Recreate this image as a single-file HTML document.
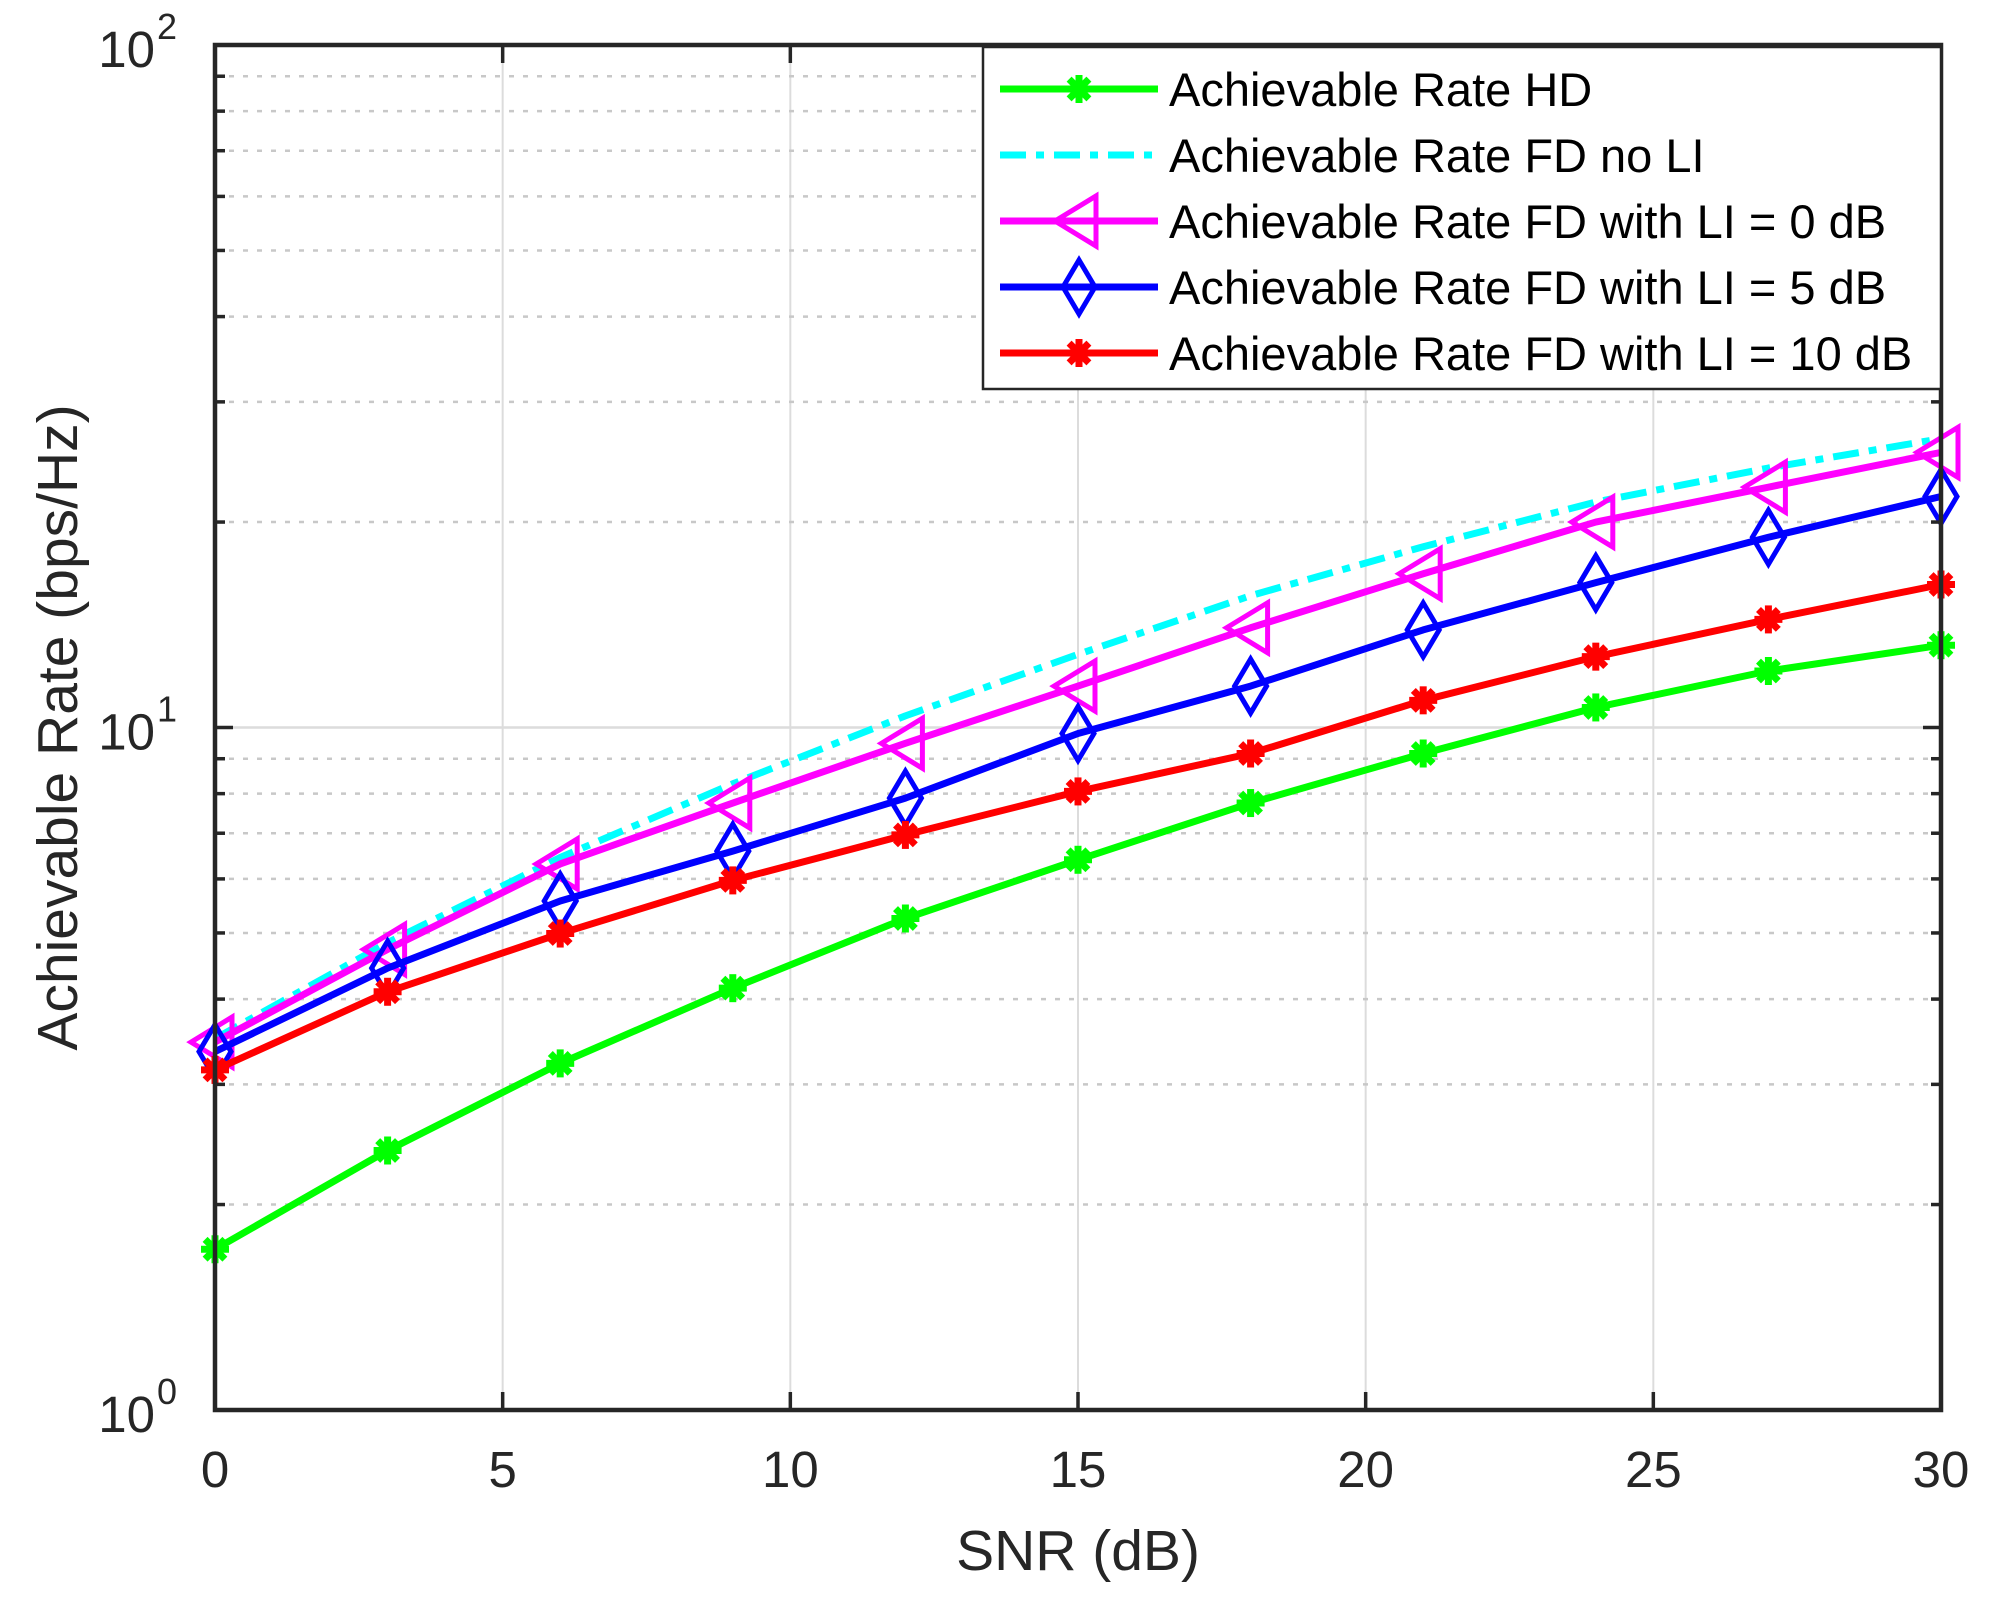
<!DOCTYPE html>
<html><head><meta charset="utf-8"><style>
html,body{margin:0;padding:0;background:#fff;}
svg{display:block;font-family:"Liberation Sans",Arial,sans-serif;}
</style></head><body>
<svg id="chart" width="1989" height="1597" viewBox="0 0 1989 1597" xmlns="http://www.w3.org/2000/svg">
<rect width="1989" height="1597" fill="#fff"/>
<g id="grid"></g>
<g id="series"></g>
<g id="axes"></g>
<g id="legend"></g>
</svg>
<script>
const snr = [0,3,6,9,12,15,18,21,24,27,30];
const rateHD = [1.72,2.4,3.22,4.15,5.25,6.4,7.75,9.16,10.7,12.1,13.2];
const rateNoLI = [3.5,4.84,6.45,8.27,10.4,12.8,15.6,18.4,21.4,24.0,26.5];
const rateLI0 = [3.46,4.73,6.31,7.75,9.48,11.5,14.0,16.8,20.0,22.5,25.3];
const rateLI5 = [3.35,4.44,5.57,6.59,7.88,9.8,11.5,13.9,16.3,19.0,21.8];
const rateLI10 = [3.15,4.1,4.99,5.97,6.96,8.06,9.16,10.96,12.7,14.4,16.2];
const xTicks = [0,5,10,15,20,25,30];
const yDecades = [1,10,100];
const yExps = ["0","1","2"];
const legendLabels = ["Achievable Rate HD","Achievable Rate FD no LI","Achievable Rate FD with LI = 0 dB","Achievable Rate FD with LI = 5 dB","Achievable Rate FD with LI = 10 dB"];

const L=215,R=1941,T=45,B=1410;
const NS="http://www.w3.org/2000/svg";
function xs(v){return L+(v-0)/(30-0)*(R-L);}
function ys(v){return B-(Math.log10(v)-0)/2*(B-T);}
function mk(tag,attrs,parent){const e=document.createElementNS(NS,tag);for(const k in attrs)e.setAttribute(k,attrs[k]);parent.appendChild(e);return e;}
const grid=document.getElementById('grid'),axes=document.getElementById('axes'),ser=document.getElementById('series'),leg=document.getElementById('legend');

xTicks.forEach(t=>{const l=mk('line',{x1:xs(t),x2:xs(t),y1:T,y2:B,stroke:'#dcdcdc','stroke-width':2},grid);

});
for(let d=1;d<100;d*=10){for(let m=1;m<10;m++){const v=d*m;const y=ys(v);
 const l=mk('line',{x1:L,x2:R,y1:y,y2:y,stroke:m==1?'#dcdcdc':'#c8c8c8','stroke-width':2.5,'stroke-dasharray':m==1?'':'5,9'},grid);
 
 
 if(m>1){mk('line',{x1:L,x2:L+10,y1:y,y2:y,stroke:'#262626','stroke-width':3.5},axes);mk('line',{x1:R,x2:R-10,y1:y,y2:y,stroke:'#262626','stroke-width':3.5},axes);}
}}
const fr=mk('rect',{x:L,y:T,width:R-L,height:B-T,fill:'none',stroke:'#262626','stroke-width':4.5},axes);


xTicks.forEach(t=>{mk('line',{x1:xs(t),x2:xs(t),y1:B,y2:B-18,stroke:'#262626','stroke-width':3.5},axes);mk('line',{x1:xs(t),x2:xs(t),y1:T,y2:T+18,stroke:'#262626','stroke-width':3.5},axes);
 const tx=mk('text',{x:xs(t),y:1487,'font-size':51,'text-anchor':'middle',fill:'#262626'},axes);tx.textContent=t;
 
 });
yDecades.forEach((v,i)=>{const y=ys(v);mk('line',{x1:L,x2:L+18,y1:y,y2:y,stroke:'#262626','stroke-width':3.5},axes);mk('line',{x1:R,x2:R-18,y1:y,y2:y,stroke:'#262626','stroke-width':3.5},axes);
 const tx=mk('text',{x:155,y:y+22,'font-size':51,'text-anchor':'end',fill:'#262626'},axes);tx.textContent='10';
 
 
 const sp=mk('text',{x:157,y:y-6,'font-size':36,fill:'#262626'},axes);sp.textContent=yExps[i];
 
 });
const xt=mk('text',{x:(L+R)/2,y:1570,'font-size':57,'text-anchor':'middle',fill:'#262626'},axes);xt.textContent='SNR (dB)';


const yt=mk('text',{x:0,y:0,'font-size':57,'text-anchor':'middle',fill:'#262626',transform:'translate(77,'+((T+B)/2)+') rotate(-90)'},axes);yt.textContent='Achievable Rate (bps/Hz)';



function star(g,x,y,c){for(let a=0;a<4;a++){const ang=a*Math.PI/4;const dx=Math.cos(ang)*14,dy=Math.sin(ang)*14;mk('line',{x1:x-dx,y1:y-dy,x2:x+dx,y2:y+dy,stroke:c,'stroke-width':7},g);}mk('circle',{cx:x,cy:y,r:8,fill:c},g);}
function tri(g,x,y,c){mk('polygon',{points:`${x-24},${y} ${x+17},${y-25} ${x+17},${y+25}`,fill:'none',stroke:c,'stroke-width':5},g);}
function dia(g,x,y,c){mk('polygon',{points:`${x},${y-27} ${x+16},${y} ${x},${y+27} ${x-16},${y}`,fill:'none',stroke:c,'stroke-width':5},g);}
const seriesDefs=[
 {d:rateHD,c:'#00ff00',m:star,name:'series-hd'},
 {d:rateNoLI,c:'#00ffff',m:null,dash:'26,10,8,10',name:'series-fd-no-li'},
 {d:rateLI0,c:'#ff00ff',m:tri,name:'series-fd-li-0db'},
 {d:rateLI5,c:'#0000ff',m:dia,name:'series-fd-li-5db'},
 {d:rateLI10,c:'#ff0000',m:star,name:'series-fd-li-10db'}];
seriesDefs.forEach(s=>{const g=mk('g',{},ser);
 
 
 const pts=snr.map((x,i)=>xs(x)+','+ys(s.d[i])).join(' ');
 mk('polyline',{points:pts,fill:'none',stroke:s.c,'stroke-width':7,'stroke-dasharray':s.dash||'','stroke-linejoin':'round'},g);
 if(s.m)snr.forEach((x,i)=>s.m(g,xs(x),ys(s.d[i]),s.c));});
const lb=mk('rect',{x:983,y:47,width:958,height:342,fill:'#fff',stroke:'#262626','stroke-width':2.5},leg);


const rowsY=[89,155,221,287,353];
seriesDefs.forEach((s,i)=>{const g=mk('g',{},leg);
 
 
 const y=rowsY[i];mk('line',{x1:1000,x2:1158,y1:y,y2:y,stroke:s.c,'stroke-width':7,'stroke-dasharray':s.dash||''},g);
 if(s.m)s.m(g,1079,y,s.c);
 const t=mk('text',{x:1169,y:y+17,'font-size':47,fill:'#000'},g);t.textContent=legendLabels[i];});
</script>
</body></html>
